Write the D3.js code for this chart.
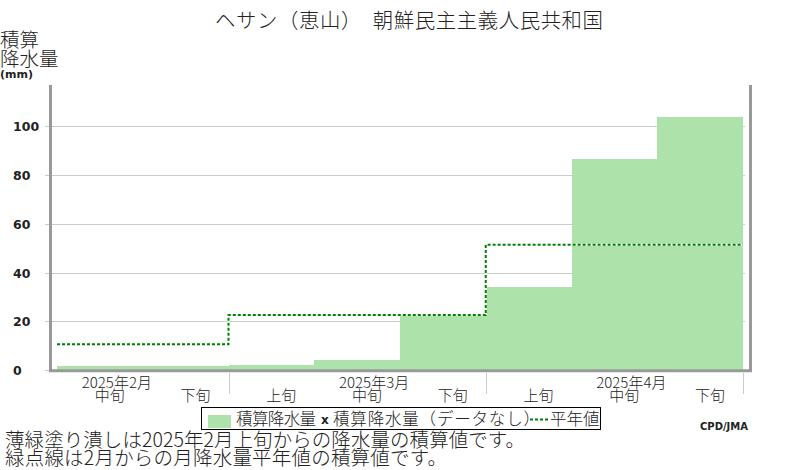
<!DOCTYPE html>
<html>
<head>
<meta charset="utf-8">
<script src="https://cdn.jsdelivr.net/npm/d3@7"></script>
<style>
  html, body { margin: 0; padding: 0; background: #fff; }
  svg { display: block; }
  .jp { font-family: "Noto Sans CJK JP", "Noto Sans", sans-serif; font-weight: 300; fill: #222; }
  .num { font-family: "DejaVu Sans", sans-serif; font-weight: bold; fill: #222; }
</style>
</head>
<body>
<svg id="chart" width="800" height="470"></svg>
<script>
// dekads shown on the x axis (Feb mid .. Apr late)
const dekads = ['中旬', '下旬', '上旬', '中旬', '下旬', '上旬', '中旬', '下旬'];
const months = ['2025年2月', '2025年3月', '2025年4月'];
const monthStart = [0, 2, 5, 8];      // dekad index where each month begins (+ end)
const monthMid = [0, 3, 6];           // dekad index of each 中旬
// accumulated precipitation (mm), one per dekad
const cumPrecip = [1.8, 1.8, 2.2, 4.2, 22.3, 34.2, 86.6, 103.8];
// accumulated monthly normal (mm), one per month
const normalCum = [10.6, 22.6, 51.4];
const yTicks = [0, 20, 40, 60, 80, 100];

const svg = d3.select('#chart');

const x = d3.scaleLinear().domain([0, dekads.length]).range([57, 743]);
const y = d3.scaleLinear().domain([0, 117]).range([370, 85]);

// title
svg.append('text').attr('class', 'jp')
  .attr('x', 215).attr('y', 28)
  .attr('font-size', '20.4px').attr('fill', '#111')
  .attr('textLength', 388).attr('lengthAdjust', 'spacing')
  .text('ヘサン（恵山）　朝鮮民主主義人民共和国');

// y axis title
svg.append('text').attr('class', 'jp').attr('x', 0).attr('y', 47).attr('font-size', '19.5px').text('積算');
svg.append('text').attr('class', 'jp').attr('x', 0).attr('y', 66).attr('font-size', '19.5px').text('降水量');
svg.append('text').attr('class', 'num').attr('x', 0).attr('y', 77.5).attr('font-size', '11px').text('(mm)');

// gridlines
svg.append('g').selectAll('line').data(yTicks).join('line')
  .attr('x1', 45).attr('x2', 745)
  .attr('y1', d => Math.round(y(d)) + 0.5).attr('y2', d => Math.round(y(d)) + 0.5)
  .attr('stroke', '#cccccc').attr('stroke-width', 1);

// tick labels
svg.append('g').selectAll('text').data(yTicks).join('text')
  .attr('class', 'num')
  .attr('x', 13).attr('y', d => y(d) + 5)
  .attr('font-size', '12.5px')
  .text(d => d);

// accumulated precipitation fill
svg.append('g').selectAll('rect').data(cumPrecip).join('rect')
  .attr('x', (d, i) => x(i))
  .attr('width', (d, i) => x(i + 1) - x(i))
  .attr('y', d => y(d))
  .attr('height', d => y(0) - y(d))
  .attr('fill', '#ade3ab')
  .attr('shape-rendering', 'crispEdges');

// normal line (step per month)
const normPts = normalCum.map((v, i) => [monthStart[i], v]);
normPts.push([monthStart[monthStart.length - 1], normalCum[normalCum.length - 1]]);
const stepLine = d3.line().x(d => x(d[0])).y(d => y(d[1])).curve(d3.curveStepAfter);
svg.append('path').attr('d', stepLine(normPts))
  .attr('fill', 'none').attr('stroke', '#fff').attr('stroke-width', 2);
svg.append('path').attr('d', stepLine(normPts))
  .attr('fill', 'none').attr('stroke', '#008000').attr('stroke-width', 2)
  .attr('stroke-dasharray', '3,2');

// frame
svg.append('line').attr('x1', 50.5).attr('x2', 50.5).attr('y1', 85).attr('y2', 372)
  .attr('stroke', '#999').attr('stroke-width', 3);
svg.append('line').attr('x1', 750.5).attr('x2', 750.5).attr('y1', 85).attr('y2', 372)
  .attr('stroke', '#999').attr('stroke-width', 3);
svg.append('line').attr('x1', 49).attr('x2', 752).attr('y1', 370.8).attr('y2', 370.8)
  .attr('stroke', '#999').attr('stroke-width', 3);

// month separators below axis
svg.append('g').selectAll('line').data(monthStart.slice(1)).join('line')
  .attr('x1', d => Math.round(x(d)) + 0.5).attr('x2', d => Math.round(x(d)) + 0.5)
  .attr('y1', 373).attr('y2', 394)
  .attr('stroke', '#ccc').attr('stroke-width', 1);

// x labels
svg.append('g').selectAll('text').data(months).join('text')
  .attr('class', 'jp').attr('font-size', '15px')
  .attr('x', (d, i) => x(monthMid[i] + 0.5) + 17).attr('y', 388)
  .attr('text-anchor', 'middle').text(d => d);
svg.append('g').selectAll('text').data(dekads).join('text')
  .attr('class', 'jp').attr('font-size', '15px')
  .attr('x', (d, i) => x(i + 0.5) + 10).attr('y', 401)
  .attr('text-anchor', 'middle').text(d => d);

// legend
const lg = svg.append('g');
lg.append('rect').attr('x', 201.5).attr('y', 407.5).attr('width', 399).attr('height', 22)
  .attr('fill', '#fff').attr('stroke', '#000').attr('stroke-width', 1);
lg.append('rect').attr('x', 208).attr('y', 415).attr('width', 23).attr('height', 13).attr('fill', '#ade3ab');
lg.append('text').attr('class', 'jp').attr('font-size', '16.5px').attr('x', 236).attr('y', 425).attr('fill', '#111')
  .attr('textLength', 80).attr('lengthAdjust', 'spacing').text('積算降水量');
lg.append('text').attr('class', 'num').attr('font-size', '12px').attr('x', 321).attr('y', 424).attr('fill', '#111').text('x');
lg.append('text').attr('class', 'jp').attr('font-size', '16.5px').attr('x', 333).attr('y', 425).attr('fill', '#111')
  .attr('textLength', 207).attr('lengthAdjust', 'spacing').text('積算降水量（データなし）');
lg.append('line').attr('x1', 530).attr('x2', 548).attr('y1', 419.5).attr('y2', 419.5)
  .attr('stroke', '#008000').attr('stroke-width', 2).attr('stroke-dasharray', '3,2');
lg.append('text').attr('class', 'jp').attr('font-size', '16.5px').attr('x', 550).attr('y', 425).attr('fill', '#111').text('平年値');

// credit
svg.append('text').attr('class', 'num').attr('font-size', '10px')
  .attr('x', 700).attr('y', 430).text('CPD/JMA');

// footnotes
svg.append('text').attr('class', 'jp').attr('font-size', '19.5px').attr('x', 5).attr('y', 447).attr('fill', '#111')
  .attr('textLength', 520).attr('lengthAdjust', 'spacing')
  .text('薄緑塗り潰しは2025年2月上旬からの降水量の積算値です。');
svg.append('text').attr('class', 'jp').attr('font-size', '19.5px').attr('x', 5).attr('y', 465).attr('fill', '#111')
  .attr('textLength', 442).attr('lengthAdjust', 'spacing')
  .text('緑点線は2月からの月降水量平年値の積算値です。');
</script>
</body>
</html>
